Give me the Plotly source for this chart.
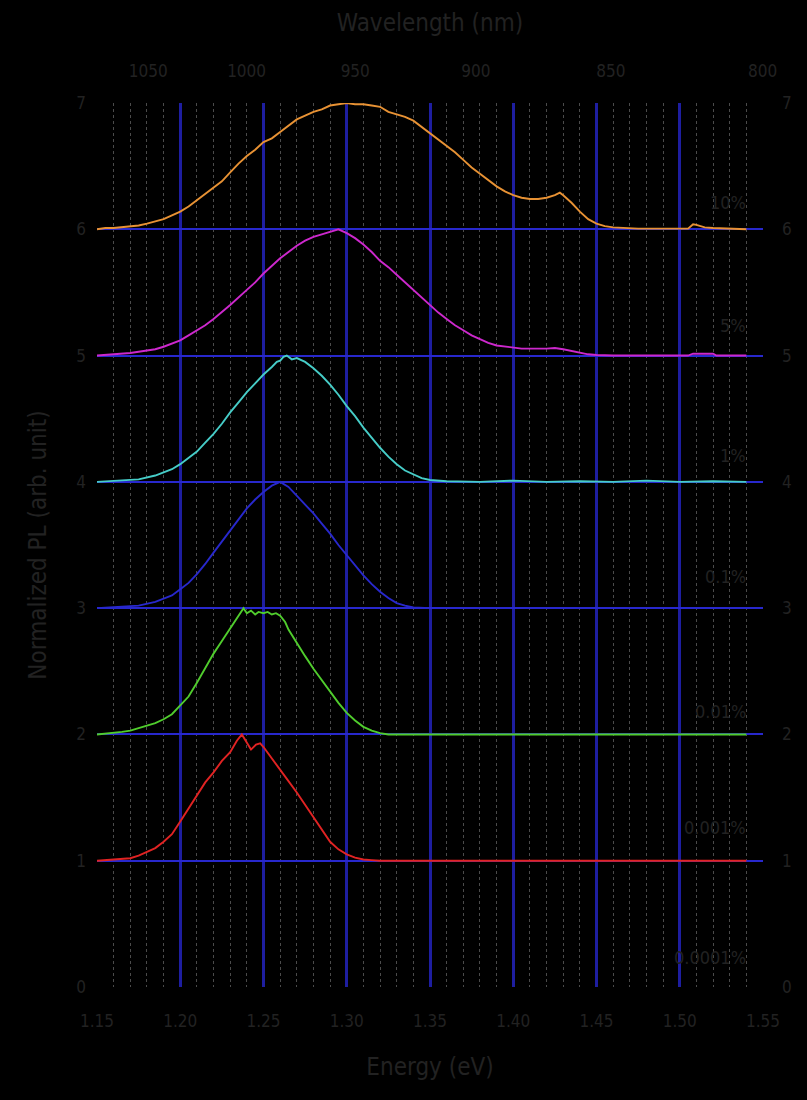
import plotly.graph_objects as go

# Photon energy axis (eV) and wavelength tick labels (nm) for the top axis
energy_ticks = [1.15, 1.20, 1.25, 1.30, 1.35, 1.40, 1.45, 1.50, 1.55]
wavelength_ticks = [1050, 1000, 950, 900, 850, 800]

# Doping labels, vertical offsets and line colours (top to bottom)
labels = ["10%", "5%", "1%", "0.1%", "0.01%", "0.001%", "0.0001%"]
label_y = [6.21, 5.24, 4.21, 3.25, 2.18, 1.26, 0.23]
offsets = [6, 5, 4, 3, 2, 1]
colors = ["rgb(232,146,52)", "rgb(205,40,205)", "rgb(70,205,200)",
          "rgb(40,40,205)", "rgb(80,205,45)", "rgb(225,35,35)"]

# Normalized PL spectra (0..1), one energy list and one intensity list per sample
ev_10 = [1.150, 1.155, 1.160, 1.165, 1.170, 1.175, 1.180, 1.185, 1.190, 1.195,
         1.200, 1.205, 1.210, 1.215, 1.220, 1.225, 1.230, 1.235, 1.240, 1.245,
         1.250, 1.255, 1.260, 1.265, 1.270, 1.275, 1.280, 1.285, 1.290, 1.295,
         1.300, 1.305, 1.310, 1.315, 1.320, 1.325, 1.330, 1.335, 1.340, 1.345,
         1.350, 1.355, 1.360, 1.365, 1.370, 1.375, 1.380, 1.385, 1.390, 1.395,
         1.400, 1.405, 1.410, 1.415, 1.420, 1.425, 1.428, 1.430, 1.435, 1.440,
         1.445, 1.450, 1.455, 1.460, 1.465, 1.470, 1.475, 1.505, 1.508, 1.510,
         1.515, 1.520, 1.530, 1.540]
pl_10 = [0.0, 0.01, 0.01, 0.015, 0.02, 0.03, 0.045, 0.06, 0.08, 0.11,
         0.14, 0.18, 0.23, 0.28, 0.33, 0.38, 0.45, 0.52, 0.58, 0.63,
         0.69, 0.72, 0.77, 0.82, 0.87, 0.90, 0.93, 0.95, 0.98, 0.99,
         1.0, 0.99, 0.99, 0.98, 0.97, 0.93, 0.91, 0.89, 0.86, 0.81,
         0.76, 0.71, 0.66, 0.61, 0.55, 0.49, 0.44, 0.39, 0.34, 0.30,
         0.27, 0.25, 0.24, 0.24, 0.25, 0.27, 0.29, 0.27, 0.21, 0.14,
         0.08, 0.045, 0.025, 0.015, 0.01, 0.01, 0.005, 0.005, 0.04, 0.035,
         0.015, 0.01, 0.005, 0.0]

ev_1 = [1.150, 1.160, 1.170, 1.180, 1.185, 1.190, 1.200, 1.205, 1.210, 1.215,
        1.220, 1.230, 1.240, 1.245, 1.250, 1.255, 1.260, 1.265, 1.270, 1.275,
        1.280, 1.285, 1.290, 1.295, 1.300, 1.305, 1.310, 1.315, 1.320, 1.325,
        1.330, 1.335, 1.340, 1.345, 1.350, 1.355, 1.360, 1.365, 1.370, 1.375,
        1.380, 1.385, 1.390, 1.395, 1.400, 1.405, 1.420, 1.425, 1.430, 1.435,
        1.440, 1.445, 1.450, 1.460, 1.505, 1.508, 1.520, 1.522, 1.540]
pl_1 = [0.0, 0.01, 0.02, 0.04, 0.05, 0.07, 0.12, 0.16, 0.20, 0.24,
        0.29, 0.40, 0.52, 0.58, 0.65, 0.71, 0.77, 0.82, 0.87, 0.91,
        0.94, 0.96, 0.98, 1.0, 0.97, 0.93, 0.88, 0.82, 0.75, 0.70,
        0.64, 0.58, 0.52, 0.46, 0.40, 0.34, 0.29, 0.24, 0.20, 0.16,
        0.13, 0.10, 0.08, 0.07, 0.06, 0.055, 0.055, 0.06, 0.05, 0.035,
        0.02, 0.01, 0.005, 0.0, 0.0, 0.015, 0.015, 0.0, 0.0]

ev_3 = [1.150, 1.165, 1.175, 1.185, 1.195, 1.200, 1.205, 1.210, 1.215, 1.220,
        1.225, 1.230, 1.235, 1.240, 1.245, 1.250, 1.255, 1.258, 1.260, 1.262,
        1.264, 1.267, 1.270, 1.275, 1.280, 1.285, 1.290, 1.295, 1.300, 1.305,
        1.310, 1.315, 1.320, 1.325, 1.330, 1.335, 1.340, 1.345, 1.350, 1.355,
        1.360, 1.380, 1.400, 1.420, 1.440, 1.460, 1.480, 1.500, 1.520, 1.540]
pl_3 = [0.0, 0.01, 0.02, 0.05, 0.10, 0.14, 0.19, 0.24, 0.31, 0.38,
        0.46, 0.55, 0.63, 0.71, 0.78, 0.85, 0.91, 0.95, 0.96, 0.99,
        1.0, 0.97, 0.98, 0.95, 0.90, 0.84, 0.77, 0.69, 0.60, 0.52,
        0.43, 0.35, 0.27, 0.20, 0.14, 0.09, 0.06, 0.03, 0.015, 0.01,
        0.005, 0.0, 0.01, 0.0, 0.005, 0.0, 0.01, 0.0, 0.005, 0.0]

ev_01 = [1.150, 1.175, 1.185, 1.195, 1.200, 1.205, 1.210, 1.215, 1.220, 1.225,
         1.230, 1.235, 1.240, 1.245, 1.250, 1.255, 1.258, 1.260, 1.265, 1.270,
         1.275, 1.280, 1.285, 1.290, 1.295, 1.300, 1.305, 1.310, 1.315, 1.320,
         1.325, 1.330, 1.335, 1.340, 1.350, 1.540]
pl_01 = [0.0, 0.02, 0.05, 0.10, 0.15, 0.20, 0.27, 0.35, 0.44, 0.53,
         0.62, 0.71, 0.79, 0.86, 0.92, 0.97, 0.99, 1.0, 0.96, 0.89,
         0.82, 0.75, 0.67, 0.59, 0.50, 0.42, 0.34, 0.26, 0.19, 0.13,
         0.08, 0.04, 0.02, 0.005, 0.0, 0.0]

ev_001 = [1.150, 1.155, 1.160, 1.165, 1.170, 1.175, 1.180, 1.185, 1.190, 1.195,
          1.200, 1.205, 1.210, 1.215, 1.220, 1.225, 1.230, 1.235, 1.238, 1.240,
          1.2425, 1.245, 1.247, 1.250, 1.2525, 1.255, 1.2575, 1.260, 1.263, 1.265,
          1.270, 1.275, 1.280, 1.285, 1.290, 1.295, 1.300, 1.305, 1.310, 1.315,
          1.320, 1.325, 1.540]
pl_001 = [0.0, 0.005, 0.01, 0.02, 0.03, 0.05, 0.07, 0.09, 0.12, 0.16,
          0.23, 0.30, 0.41, 0.53, 0.64, 0.74, 0.84, 0.95, 1.0, 0.96,
          0.98, 0.95, 0.97, 0.96, 0.97, 0.95, 0.96, 0.94, 0.89, 0.83,
          0.72, 0.62, 0.52, 0.43, 0.34, 0.25, 0.17, 0.11, 0.06, 0.03,
          0.01, 0.0, 0.0]

ev_0001 = [1.150, 1.155, 1.160, 1.165, 1.170, 1.175, 1.180, 1.185, 1.190, 1.195,
           1.200, 1.205, 1.210, 1.215, 1.220, 1.225, 1.230, 1.234, 1.237, 1.240,
           1.2425, 1.2455, 1.248, 1.250, 1.254, 1.2575, 1.262, 1.265, 1.270, 1.275,
           1.280, 1.285, 1.290, 1.295, 1.300, 1.305, 1.310, 1.315, 1.320, 1.540]
pl_0001 = [0.0, 0.005, 0.01, 0.015, 0.02, 0.04, 0.07, 0.10, 0.15, 0.21,
           0.31, 0.41, 0.52, 0.62, 0.70, 0.79, 0.86, 0.95, 1.0, 0.93,
           0.88, 0.92, 0.93, 0.90, 0.83, 0.76, 0.69, 0.63, 0.54, 0.44,
           0.34, 0.24, 0.15, 0.09, 0.05, 0.025, 0.01, 0.005, 0.0, 0.0]

series_ev = [ev_10, ev_1, ev_3, ev_01, ev_001, ev_0001]
series_pl = [pl_10, pl_1, pl_3, pl_01, pl_001, pl_0001]

text_color = "#222222"
font_family = "Liberation Sans Narrow, DejaVu Sans Condensed, Liberation Sans, sans-serif"

fig = go.Figure()

for ev, pl, off, col in zip(series_ev, series_pl, offsets, colors):
    fig.add_trace(go.Scatter(
        x=ev, y=[v + off for v in pl], mode="lines",
        line=dict(color=col, width=1.9), showlegend=False, hoverinfo="skip",
    ))

# Invisible anchor trace so the top/right axes are drawn
fig.add_trace(go.Scatter(x=[1.15], y=[0], xaxis="x2", yaxis="y2", mode="markers",
                         marker=dict(opacity=0), showlegend=False, hoverinfo="skip"))

for txt, yv in zip(labels, label_y):
    fig.add_annotation(x=1.541, y=yv, text=txt, showarrow=False, xanchor="right",
                       yanchor="middle", font=dict(size=18, color=text_color, family=font_family))

hc = 1239.84
fig.update_layout(
    width=807, height=1100,
    margin=dict(l=97, r=44, t=103, b=113),
    paper_bgcolor="black", plot_bgcolor="black",
    font=dict(family=font_family, color=text_color, size=17),
    xaxis=dict(
        range=[1.15, 1.55], tickvals=energy_ticks,
        ticktext=["%.2f" % v for v in energy_ticks],
        showgrid=True, gridcolor="rgb(30,30,160)", gridwidth=3,
        minor=dict(dtick=0.01, showgrid=True, gridcolor="rgba(150,150,150,0.5)",
                   griddash="dot", gridwidth=1),
        zeroline=False, showline=False, ticks="", ticklabelstandoff=22,
        title=dict(text="Energy (eV)", font=dict(size=24, color=text_color), standoff=28),
    ),
    xaxis2=dict(
        range=[1.15, 1.55], overlaying="x", side="top",
        tickvals=[hc / w for w in wavelength_ticks],
        ticktext=[str(w) for w in wavelength_ticks],
        showgrid=False, zeroline=False, showline=False, ticks="", ticklabelstandoff=22,
        title=dict(text="Wavelength (nm)", font=dict(size=24, color=text_color), standoff=22),
    ),
    yaxis=dict(
        range=[0, 7], dtick=1, showgrid=True, gridcolor="rgb(40,40,205)", gridwidth=2,
        zeroline=False, showline=False, ticks="", ticklabelstandoff=10,
        title=dict(text="Normalized PL (arb. unit)", font=dict(size=24, color=text_color), standoff=22),
    ),
    yaxis2=dict(
        range=[0, 7], dtick=1, overlaying="y", side="right", showgrid=False,
        zeroline=False, showline=False, ticks="", ticklabelstandoff=18,
    ),
)

fig.write_html("out.html")
